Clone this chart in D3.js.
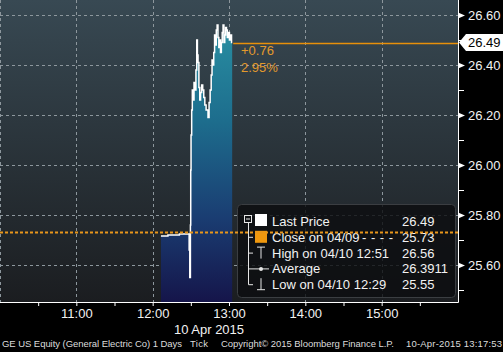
<!DOCTYPE html>
<html>
<head>
<meta charset="utf-8">
<script src="https://cdn.jsdelivr.net/npm/d3@7"></script>
<style>
  body { margin: 0; background: #000; }
  svg { display: block; font-family: "Liberation Sans", Arial, sans-serif; }
</style>
</head>
<body>
<div id="chart"></div>
<script>
// tick prices for GE, 10 Apr 2015
const times = ["12:06:30","12:12:00","12:21:00","12:28:40","12:29:10","12:29:40","12:29:55","12:30:10",
  "12:30:40","12:31:10","12:31:50","12:32:30","12:33:20","12:34:00","12:34:40","12:35:10","12:35:40",
  "12:36:20","12:37:00","12:37:40","12:38:30","12:39:20","12:40:10","12:41:00","12:42:00","12:43:30",
  "12:44:20","12:45:10","12:46:00","12:46:40","12:47:20","12:48:00","12:48:40","12:49:20","12:50:00",
  "12:50:40","12:51:20","12:52:00","12:52:40","12:53:20","12:54:00","12:54:40","12:55:20","12:56:00",
  "12:56:40","12:57:20","12:58:00","12:58:40","12:59:30","13:00:20","13:01:10","13:02:00","13:02:30"];
const prices = [25.716,25.720,25.724,25.66,25.55,25.76,25.98,26.12,
  26.22,26.30,26.26,26.33,26.30,26.38,26.50,26.44,26.41,
  26.31,26.26,26.29,26.32,26.30,26.27,26.24,26.22,26.19,
  26.25,26.30,26.36,26.42,26.40,26.45,26.52,26.48,26.54,
  26.56,26.51,26.47,26.50,26.45,26.49,26.53,26.56,26.49,
  26.52,26.55,26.54,26.51,26.53,26.50,26.52,26.49,26.49];

const yMajor = [25.6, 25.8, 26.0, 26.2, 26.4, 26.6];
const yMinor = [25.5, 25.7, 25.9, 26.1, 26.3, 26.5];
const xMajor = ["10:00","11:00","12:00","13:00","14:00","15:00"];
const xMinor = ["10:30","11:30","12:30","13:30","14:30","15:30"];

const lastPrice = 26.49;
const prevClose = 25.73;
const changeText = ["+0.76", "2.95%"];

const legendLabels = ["Last Price", "Close on 04/09", "High on 04/10 12:51", "Average", "Low on 04/10 12:29"];
const legendValues = ["26.49", "25.73", "26.56", "26.3911", "25.55"];

const W = 503, H = 352;
const plotW = 458, plotH = 302;
const parse = d3.timeParse("%H:%M:%S");
const parseHM = d3.timeParse("%H:%M");

const data = times.map((t, i) => ({t: parse(t), v: prices[i]}));

const x = d3.scaleTime().domain([parseHM("10:00"), parseHM("16:00")]).range([0, plotW]);
const y = d3.scaleLinear().domain([26.6 - 287 / 250, 26.6 + 15 / 250]).range([plotH, 0]);

const svg = d3.select("#chart").append("svg")
    .attr("width", W).attr("height", H);

const defs = svg.append("defs");
const bg = defs.append("linearGradient").attr("id", "bg")
    .attr("x1", 0).attr("y1", 0).attr("x2", 0).attr("y2", 1);
bg.append("stop").attr("offset", "0%").attr("stop-color", "#384953");
bg.append("stop").attr("offset", "100%").attr("stop-color", "#1b1d20");

const ar = defs.append("linearGradient").attr("id", "area")
    .attr("gradientUnits", "userSpaceOnUse")
    .attr("x1", 0).attr("y1", 0).attr("x2", 0).attr("y2", plotH);
ar.append("stop").attr("offset", "0%").attr("stop-color", "#2c98a8");
ar.append("stop").attr("offset", "40%").attr("stop-color", "#1d6d8d");
ar.append("stop").attr("offset", "72%").attr("stop-color", "#1a3d72");
ar.append("stop").attr("offset", "100%").attr("stop-color", "#15154a");

svg.append("rect").attr("width", plotW).attr("height", plotH).attr("fill", "url(#bg)");

// grid
const grid = svg.append("g").attr("stroke", "#8d979d").attr("stroke-dasharray", "3,3").attr("stroke-width", 1);
grid.selectAll(".hg").data(yMajor).join("line")
    .attr("x1", 0).attr("x2", plotW)
    .attr("y1", d => Math.round(y(d)) + 0.5).attr("y2", d => Math.round(y(d)) + 0.5);
grid.selectAll(".vg").data(xMajor).join("line")
    .attr("x1", d => Math.round(x(parseHM(d))) + 0.5).attr("x2", d => Math.round(x(parseHM(d))) + 0.5)
    .attr("y1", 0).attr("y2", plotH);

// area + line
const area = d3.area().curve(d3.curveStepAfter)
    .x(d => x(d.t)).y0(plotH).y1(d => y(d.v));
svg.append("path").datum(data).attr("d", area).attr("fill", "url(#area)");

const line = d3.line().curve(d3.curveStepAfter).x(d => x(d.t)).y(d => y(d.v));
svg.append("path").datum(data).attr("d", line)
    .attr("fill", "none").attr("stroke", "#fff").attr("stroke-width", 1.5);

// legend background
const lg = svg.append("g");
lg.append("rect").attr("x", 237.5).attr("y", 204.5).attr("width", 218).attr("height", 93)
    .attr("rx", 4).attr("fill", "#0c0e10").attr("fill-opacity", 0.82)
    .attr("stroke", "#3b3e42");

// close + last price lines
svg.append("line")
    .attr("x1", 0).attr("x2", plotW).attr("y1", y(prevClose)).attr("y2", y(prevClose))
    .attr("stroke", "#e8961a").attr("stroke-width", 2).attr("stroke-dasharray", "3,2");
const last = data[data.length - 1];
svg.append("line")
    .attr("x1", x(last.t) + 1).attr("x2", plotW)
    .attr("y1", Math.round(y(lastPrice)) + 0.5).attr("y2", Math.round(y(lastPrice)) + 0.5)
    .attr("stroke", "#e8900a").attr("stroke-width", 1.4);

svg.selectAll(".chg").data(changeText).join("text")
    .attr("x", 241).attr("y", (d, i) => 55 + i * 16.5)
    .attr("fill", "#e39a2c").attr("font-size", 13).text(d => d);

// right axis
const yAxis = svg.append("g").attr("transform", `translate(${plotW},0)`)
    .call(d3.axisRight(y).tickValues(yMajor).tickSize(0).tickPadding(10).tickFormat(d3.format(".2f")));
yAxis.select(".domain").remove();
yAxis.selectAll("text").attr("fill", "#f2f2f2").attr("font-size", 13)
    .attr("font-family", "Liberation Sans, Arial, sans-serif");
yAxis.selectAll(".tick").append("path").attr("d", "M0,-3 L7,0 L0,3 Z").attr("fill", "#fff");
const yMin = svg.append("g").attr("transform", `translate(${plotW},0)`)
    .call(d3.axisRight(y).tickValues(yMinor).tickSize(6).tickFormat(""));
yMin.select(".domain").remove();
yMin.selectAll("line").attr("stroke", "#fff");

// bottom axis
const xAxis = svg.append("g").attr("transform", `translate(0,${plotH})`)
    .call(d3.axisBottom(x).tickValues(xMajor.slice(1).map(parseHM)).tickSize(4).tickPadding(3)
      .tickFormat(d3.timeFormat("%H:%M")));
xAxis.select(".domain").remove();
xAxis.selectAll("line").attr("stroke", "#fff");
xAxis.selectAll("text").attr("fill", "#f2f2f2").attr("font-size", 13)
    .attr("font-family", "Liberation Sans, Arial, sans-serif");
const xMin = svg.append("g").attr("transform", `translate(0,${plotH})`)
    .call(d3.axisBottom(x).tickValues(xMinor.map(parseHM)).tickSize(4).tickFormat(""));
xMin.select(".domain").remove();
xMin.selectAll("line").attr("stroke", "#fff");

svg.append("line").attr("x1", 0).attr("x2", plotW + 0.5).attr("y1", plotH + 0.5).attr("y2", plotH + 0.5)
    .attr("stroke", "#fff");
svg.append("line").attr("x1", plotW + 0.5).attr("x2", plotW + 0.5).attr("y1", 0).attr("y2", plotH + 0.5)
    .attr("stroke", "#fff");

svg.append("text").attr("x", 209).attr("y", 334).attr("text-anchor", "middle")
    .attr("fill", "#f2f2f2").attr("font-size", 13).text("10 Apr 2015");

// last price marker on axis
const ly = y(lastPrice);
svg.append("path")
    .attr("d", `M${plotW + 1},${ly} L${plotW + 8},${ly - 8.5} L${W},${ly - 8.5} L${W},${ly + 8.5} L${plotW + 8},${ly + 8.5} Z`)
    .attr("fill", "#fff");
svg.append("text").attr("x", 468).attr("y", ly + 4.5).attr("fill", "#000").attr("font-size", 13)
    .text(lastPrice.toFixed(2));

// legend content
const rowY = i => 221 + i * 15.8;
const tree = lg.append("g").attr("stroke", "#e6e6e6").attr("fill", "none");
tree.append("rect").attr("x", 244.5).attr("y", rowY(0) - 5.5).attr("width", 7).attr("height", 7);
tree.append("line").attr("x1", 246).attr("x2", 250).attr("y1", rowY(0) - 2).attr("y2", rowY(0) - 2);
tree.append("line").attr("x1", 248.5).attr("x2", 248.5).attr("y1", rowY(0) + 1.5).attr("y2", rowY(4) + 0.5);
tree.selectAll(".br").data([1, 2, 3, 4]).join("line")
    .attr("x1", 248.5).attr("x2", 253).attr("y1", d => rowY(d) + 0.5).attr("y2", d => rowY(d) + 0.5);

lg.append("rect").attr("x", 255).attr("y", rowY(0) - 7).attr("width", 12).attr("height", 12).attr("fill", "#fff");
lg.append("rect").attr("x", 255).attr("y", rowY(1) - 6).attr("width", 12).attr("height", 12).attr("fill", "#f0980e");
const ic = lg.append("g").attr("stroke", "#e6e6e6").attr("fill", "none");
ic.append("path").attr("d", `M257,${rowY(2) - 5.5} H265 M261,${rowY(2) - 5.5} V${rowY(2) + 6}`);
ic.append("path").attr("d", `M253,${rowY(3) + 0.5} H269`);
lg.append("circle").attr("cx", 261).attr("cy", rowY(3) + 0.5).attr("r", 2).attr("fill", "#e6e6e6");
ic.append("path").attr("d", `M261,${rowY(4) - 6} V${rowY(4) + 5.5} M257,${rowY(4) + 5.5} H265`);

lg.selectAll(".ll").data(legendLabels).join("text")
    .attr("x", 272).attr("y", (d, i) => rowY(i) + 5)
    .attr("fill", "#f2f2f2").attr("font-size", 13).text(d => d);
lg.append("text").attr("x", 362).attr("y", rowY(1) + 5).attr("textLength", 31)
    .attr("lengthAdjust", "spacing").attr("fill", "#f2f2f2").attr("font-size", 13).text("----");
lg.selectAll(".lv").data(legendValues).join("text")
    .attr("x", 402).attr("y", (d, i) => rowY(i) + 5)
    .attr("fill", "#f2f2f2").attr("font-size", 13).text(d => d);

// footer
const foot = svg.append("g").attr("fill", "#dcdcdc").attr("font-size", 9.5);
foot.append("text").attr("x", 2).attr("y", 347).attr("textLength", 180).text("GE US Equity (General Electric Co) 1 Days");
foot.append("text").attr("x", 190).attr("y", 347).attr("textLength", 18).text("Tick");
foot.append("text").attr("x", 221).attr("y", 347).attr("textLength", 173).text("Copyright\u00a9 2015 Bloomberg Finance L.P.");
foot.append("text").attr("x", 406).attr("y", 347).attr("textLength", 96).text("10-Apr-2015 13:17:53");
</script>
</body>
</html>
